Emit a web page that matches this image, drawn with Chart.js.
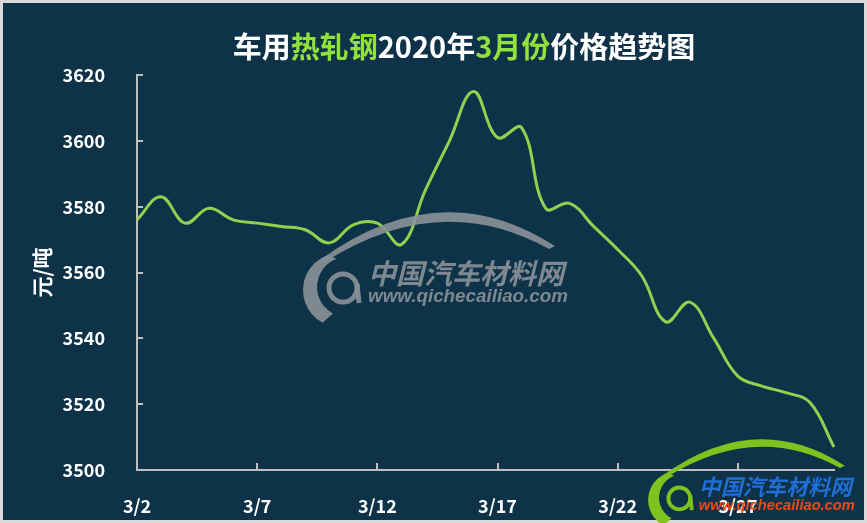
<!DOCTYPE html>
<html>
<head>
<meta charset="utf-8">
<script src="https://cdn.jsdelivr.net/npm/chart.js@4"></script>
<style>
  body { margin: 0; background: #fff; }
  #wrap { position: relative; width: 867px; height: 523px; }
  #title {
    position: absolute; left: 464px; top: 29px; transform: translateX(-50%);
    white-space: nowrap; font: bold 29px "Noto Sans CJK SC", sans-serif; line-height: 32px;
    color: #fff; z-index: 2;
  }
  #title .hl { color: #92e03c; }
</style>
</head>
<body>
<div id="wrap">
  <div id="title">车用<span class="hl">热轧钢</span>2020年<span class="hl">3月份</span>价格趋势图</div>
  <canvas id="GraficoPreco" width="867" height="523"></canvas>
</div>
<script>
// dados
const dias = ['3/2','3/3','3/4','3/5','3/6','3/7','3/8','3/9','3/10','3/11',
              '3/12','3/13','3/14','3/15','3/16','3/17','3/18','3/19','3/20','3/21',
              '3/22','3/23','3/24','3/25','3/26','3/27','3/28','3/29','3/30','3/31'];
const precos = [3576, 3583, 3575, 3579.5, 3576, 3575, 3574, 3573, 3569, 3574.5,
                3575, 3568.5, 3585, 3600, 3615, 3601, 3604, 3579.5, 3581, 3574,
                3567, 3559, 3545, 3551, 3540, 3528.5, 3525.5, 3523.5, 3520.5, 3507];
const eixoMin = 3500;
const eixoMax = 3620;
const passo = 20;
const unidade = '元/吨';

const fundo = '#0e3348';
const verde = '#92d050';
const cinzaEixo = '#bfbfbf';

function desenharLogo(ctx, ox, oy, s, corArco, corTexto, corUrl, alfa) {
    ctx.save();
    ctx.globalAlpha = alfa;
    ctx.translate(ox, oy);
    ctx.scale(s, s);
    ctx.fillStyle = corArco;
    ctx.strokeStyle = corArco;
    // teto do carro
    ctx.beginPath();
    ctx.moveTo(-20, -30);
    ctx.quadraticCurveTo(100, -118, 215, -44);
    ctx.lineTo(209, -41);
    ctx.quadraticCurveTo(100, -102, -17, -27);
    ctx.closePath();
    ctx.fill();
    // meia lua
    ctx.beginPath();
    ctx.arc(0, 0, 37, 250 * Math.PI / 180, 118 * Math.PI / 180, true);
    ctx.arc(7, -3, 30, 118 * Math.PI / 180, 250 * Math.PI / 180, false);
    ctx.closePath();
    ctx.fill();
    // letra q
    ctx.lineWidth = 5;
    ctx.beginPath();
    ctx.arc(3, -2, 14, 0, Math.PI * 2);
    ctx.stroke();
    ctx.beginPath();
    ctx.moveTo(17, -6);
    ctx.lineTo(19, 13);
    ctx.stroke();
    // textos
    ctx.textBaseline = 'middle';
    ctx.textAlign = 'left';
    ctx.fillStyle = corTexto;
    ctx.font = 'italic bold 28px "Noto Sans CJK SC"';
    ctx.fillText('中国汽车材料网', 28, -17, 202);
    ctx.fillStyle = corUrl;
    ctx.font = 'italic bold 19px "Liberation Sans"';
    ctx.fillText('www.qichecailiao.com', 28, 7, 200);
    ctx.restore();
}

const pluginFundo = {
    id: 'fundo',
    beforeDraw(chart) {
        const ctx = chart.ctx;
        ctx.save();
        ctx.fillStyle = fundo;
        ctx.fillRect(0, 0, chart.width, chart.height);
        ctx.strokeStyle = '#d9d9d9';
        ctx.lineWidth = 3;
        ctx.strokeRect(1.5, 1.5, chart.width - 3, chart.height - 3);
        ctx.restore();
    },
    afterDraw(chart) {
        const ctx = chart.ctx;
        const xs = chart.scales.x, ys = chart.scales.y;
        const area = chart.chartArea;
        ctx.save();
        ctx.strokeStyle = cinzaEixo;
        ctx.lineWidth = 2;
        ctx.beginPath();
        ys.ticks.forEach(function (t, i) {
            const y = Math.round(ys.getPixelForTick(i));
            ctx.moveTo(area.left, y);
            ctx.lineTo(area.left + 6, y);
        });
        for (let i = 5; i < dias.length; i += 5) {
            const x = Math.round(xs.getPixelForValue(i));
            ctx.moveTo(x, area.bottom);
            ctx.lineTo(x, area.bottom - 7);
        }
        ctx.stroke();
        ctx.restore();
        desenharLogo(ctx, 340, 290, 1, '#8a9198', '#8a9198', '#8a9198', 0.9);
        desenharLogo(ctx, 677, 500, 0.78, '#7dc21e', '#1f6fd6', '#f04a14', 1);
    }
};

new Chart(document.getElementById('GraficoPreco'), {
    type: 'line',
    data: {
        labels: dias,
        datasets: [{
            label: '价格',
            data: precos,
            borderColor: verde,
            borderWidth: 3,
            fill: false,
            tension: 0.4,
            pointRadius: 0
        }]
    },
    options: {
        responsive: false,
        animation: false,
        layout: { padding: { top: 75, right: 33, left: 0, bottom: 0 } },
        plugins: {
            legend: { display: false },
            tooltip: { enabled: false }
        },
        scales: {
            x: {
                grid: { display: false },
                border: { color: cinzaEixo, width: 2 },
                ticks: {
                    autoSkip: false,
                    maxRotation: 0,
                    padding: 17,
                    color: '#fff',
                    font: { family: '"Noto Sans CJK SC"', size: 18, weight: 'bold' },
                    callback: function (v, i) { return i % 5 === 0 ? dias[i] : ''; }
                },
                afterFit: function (s) { s.height = 53; }
            },
            y: {
                min: eixoMin,
                max: eixoMax,
                grid: { display: false },
                border: { color: cinzaEixo, width: 2 },
                ticks: {
                    stepSize: passo,
                    padding: 24,
                    color: '#fff',
                    font: { family: '"Noto Sans CJK SC"', size: 18, weight: 'bold' },
                    callback: function (v) { return String(v); }
                },
                title: {
                    display: true,
                    text: unidade,
                    color: '#fff',
                    padding: { top: 29, bottom: 0 },
                    font: { family: '"Noto Sans CJK SC"', size: 21, weight: 'bold' }
                },
                afterFit: function (s) { s.width = 137; }
            }
        }
    },
    plugins: [pluginFundo]
});
</script>
</body>
</html>
